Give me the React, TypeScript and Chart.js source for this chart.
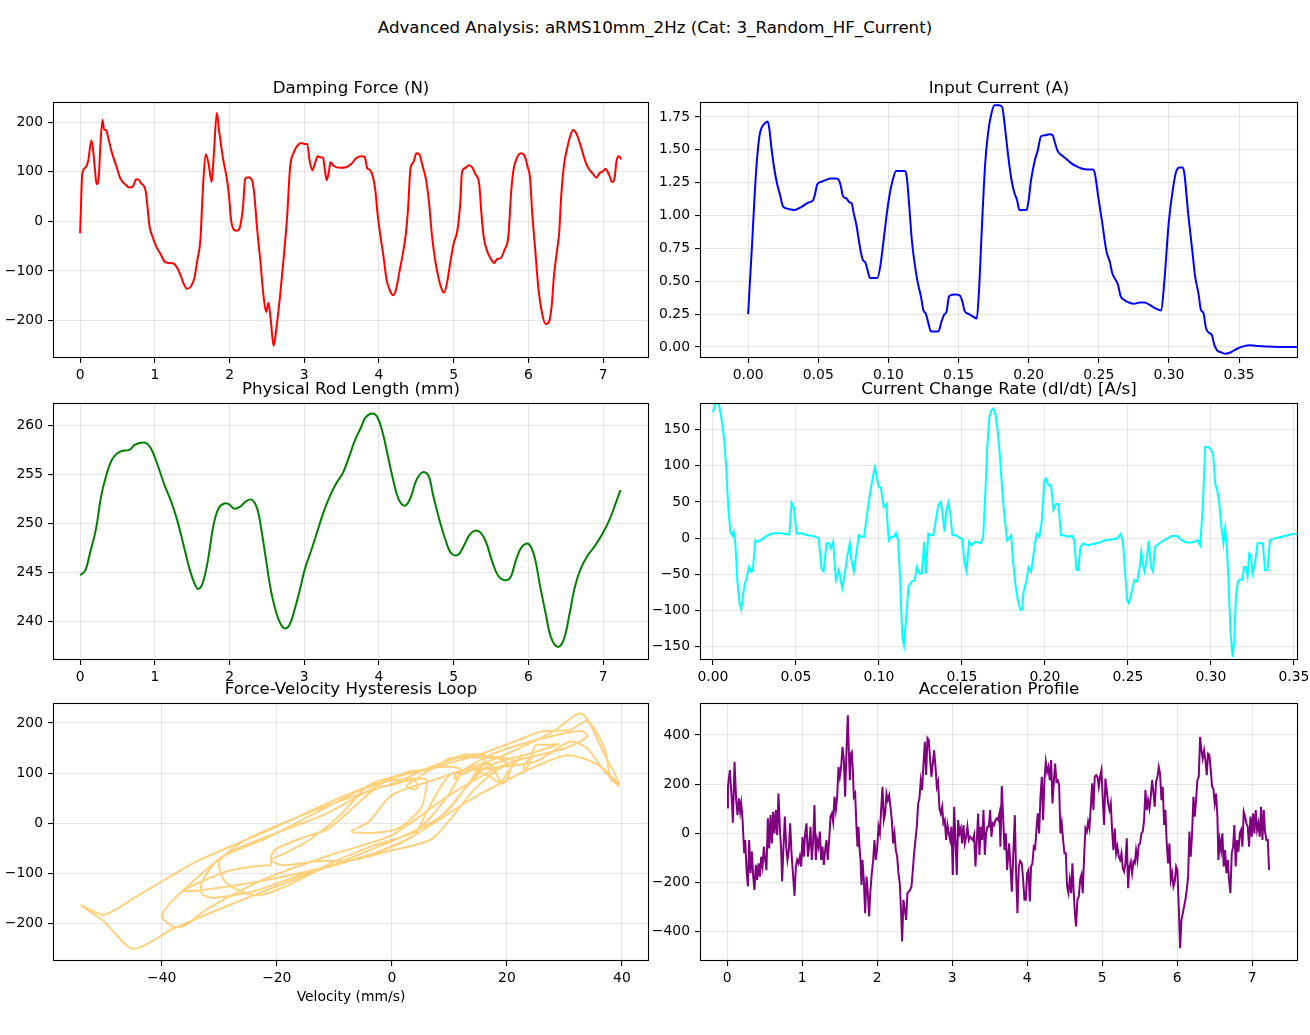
import React, { useEffect, useRef } from "react";
import Chart from "chart.js/auto";

Chart.defaults.font.family = "'DejaVu Sans', sans-serif";
Chart.defaults.font.size = 13.9;
Chart.defaults.color = "#000";

const suptitle = "Advanced Analysis: aRMS10mm_2Hz (Cat: 3_Random_HF_Current)";

// damping force (N) over time (s)
const forceTime = [
  0, 0.03, 0.07, 0.11, 0.15, 0.17, 0.2, 0.22, 0.25, 0.27,
  0.3, 0.32, 0.35, 0.38, 0.43, 0.49, 0.54, 0.6, 0.66, 0.71,
  0.75, 0.79, 0.82, 0.85, 0.88, 0.93, 0.96, 1.02, 1.08, 1.13,
  1.19, 1.25, 1.3, 1.35, 1.39, 1.43, 1.48, 1.53, 1.57, 1.61,
  1.64, 1.68, 1.72, 1.76, 1.79, 1.83, 1.86, 1.91, 1.96, 1.99,
  2.02, 2.06, 2.1, 2.14, 2.18, 2.21, 2.25, 2.3, 2.33, 2.37,
  2.41, 2.45, 2.49, 2.52, 2.55, 2.59, 2.63, 2.68, 2.73, 2.77,
  2.81, 2.86, 2.91, 2.96, 3.0, 3.04, 3.07, 3.11, 3.14, 3.18,
  3.22, 3.25, 3.28, 3.3, 3.33, 3.35, 3.4, 3.48, 3.56, 3.63,
  3.7, 3.77, 3.81, 3.84, 3.88, 3.92, 3.95, 3.98, 4.02, 4.06,
  4.1, 4.15, 4.19, 4.23, 4.27, 4.32, 4.36, 4.39, 4.42, 4.46,
  4.5, 4.54, 4.58, 4.63, 4.67, 4.71, 4.75, 4.8, 4.84, 4.87,
  4.91, 4.96, 5.0, 5.05, 5.09, 5.11, 5.16, 5.2, 5.25, 5.29,
  5.34, 5.37, 5.4, 5.44, 5.49, 5.54, 5.58, 5.63, 5.68, 5.73,
  5.77, 5.8, 5.84, 5.9, 5.95, 5.99, 6.02, 6.05, 6.09, 6.13,
  6.18, 6.23, 6.27, 6.31, 6.34, 6.38, 6.41, 6.44, 6.48, 6.52,
  6.56, 6.6, 6.64, 6.69, 6.73, 6.77, 6.82, 6.86, 6.91, 6.95,
  7.0, 7.03, 7.08, 7.12, 7.15, 7.18, 7.21, 7.24,
];
const forceValues = [
  -24, 96, 108, 123, 163, 149, 103, 75, 89, 149,
  204, 186, 183, 166, 136, 109, 86, 75, 68, 71,
  85, 83, 76, 72, 59, -11, -27, -51, -67, -81,
  -84, -85, -94, -111, -127, -136, -132, -114, -77, -37,
  56, 135, 116, 79, 136, 219, 183, 129, 89, 56,
  3, -17, -19, -11, 29, 86, 89, 83, 56, -17,
  -77, -144, -183, -164, -197, -251, -211, -144, -64, 9,
  109, 139, 153, 158, 156, 156, 123, 103, 116, 131,
  129, 128, 99, 83, 101, 119, 111, 108, 109, 116,
  128, 131, 129, 108, 103, 89, 63, 16, -31, -71,
  -117, -141, -149, -136, -104, -64, -24, 29, 106, 119,
  137, 135, 113, 83, 36, -31, -77, -117, -137, -144,
  -124, -77, -44, -17, 43, 99, 108, 113, 108, 95,
  76, 16, -31, -57, -74, -84, -76, -74, -57, -31,
  63, 104, 126, 137, 131, 109, 89, 16, -57, -131,
  -184, -207, -204, -171, -111, -61, -24, 56, 119, 149,
  173, 184, 177, 156, 136, 117, 103, 96, 88, 97,
  101, 106, 93, 79, 86, 123, 131, 125,
];
// velocity (mm/s) at the same instants, for the hysteresis loop
const loopVelocity = [
  4, 10, 16, 25, 31, 34, 37, 39.5, 38, 37,
  34, 31, 26, 22, 15, 7, 4, 2.5, 3.5, 4.5,
  4, 2, 0, -2, -4, -11, -15, -20, -21, -21,
  -21, -23, -28, -32, -35, -36, -32, -22, -8, 2,
  15, 30, 36, 39.5, 37, 33, 28, 18, 8, 0,
  -4, -7, -3, 1, 5, 6, 4, -1, -8, -22,
  -34, -44, -50, -54, -50, -45, -38, -24, -6, 8,
  16, 24, 28, 29, 27, 25, 24, 23, 23, 24,
  23, 22, 20, 19, 18, 17, 15, 14, 18, 20,
  19, 15, 10, 7, 3, 0, -6, -14, -22, -30,
  -33, -33, -31, -24, -16, -4, 4, 10, 15, 16,
  16, 13, 7, 1, -11, -25, -30, -29, -26, -23,
  -18, -10, -3, 4, 9, 12, 12, 10, 6, 1,
  -4, -9, -14, -18, -21, -19, -13, -7, -1, 7,
  14, 18, 21, 13, 11, 6, 0, -12, -28, -36,
  -40, -38, -36, -32, -22, -10, 0, 10, 20, 30,
  34, 33, 29, 22, 17, 14, 12, 11, 11, 12,
  13, 14, 17, 19, 20, 21, 21, 21,
];

// input current (A)
const currentTime = [
  0, 0.0027, 0.0056, 0.008, 0.0097, 0.0118, 0.0139, 0.015, 0.0168, 0.0186,
  0.0207, 0.0227, 0.0248, 0.0272, 0.0301, 0.0331, 0.036, 0.039, 0.0428, 0.0464,
  0.0478, 0.0493, 0.0523, 0.0552, 0.0588, 0.0626, 0.0647, 0.0662, 0.0676, 0.07,
  0.0724, 0.0738, 0.0753, 0.0774, 0.0789, 0.0803, 0.0818, 0.0836, 0.0854, 0.0868,
  0.0892, 0.0921, 0.0942, 0.0966, 0.0989, 0.101, 0.1031, 0.1054, 0.1084, 0.1119,
  0.1131, 0.1149, 0.1167, 0.1187, 0.1208, 0.1232, 0.125, 0.1267, 0.1285, 0.1303,
  0.1326, 0.1356, 0.1379, 0.1397, 0.1415, 0.1432, 0.1453, 0.1483, 0.1512, 0.1527,
  0.1545, 0.1571, 0.1601, 0.163, 0.1645, 0.1669, 0.169, 0.171, 0.1734, 0.1757,
  0.1787, 0.1811, 0.1828, 0.1852, 0.1876, 0.1896, 0.1917, 0.1934, 0.1955, 0.1985,
  0.2, 0.2017, 0.2044, 0.2065, 0.2088, 0.2118, 0.2147, 0.2171, 0.2186, 0.2206,
  0.2236, 0.2265, 0.23, 0.2339, 0.2378, 0.2419, 0.2457, 0.2472, 0.2496, 0.2525,
  0.2555, 0.2578, 0.2596, 0.262, 0.2637, 0.2655, 0.2679, 0.2714, 0.2753, 0.2791,
  0.2827, 0.2862, 0.29, 0.2945, 0.2968, 0.2998, 0.3027, 0.3051, 0.3075, 0.3098,
  0.311, 0.3137, 0.3166, 0.3187, 0.321, 0.3228, 0.3246, 0.3264, 0.3287, 0.3305,
  0.3323, 0.3343, 0.3373, 0.3402, 0.3441, 0.3482, 0.353, 0.358, 0.3639, 0.3742,
  0.392,
];
const currentValues = [
  0.25, 0.76, 1.32, 1.6, 1.67, 1.7, 1.715, 1.67, 1.5, 1.36,
  1.24, 1.16, 1.07, 1.055, 1.047, 1.042, 1.055, 1.072, 1.098, 1.118,
  1.168, 1.239, 1.257, 1.27, 1.282, 1.282, 1.27, 1.219, 1.148, 1.131,
  1.1, 1.093, 1.017, 0.916, 0.814, 0.726, 0.663, 0.642, 0.574, 0.526,
  0.526, 0.526, 0.612, 0.814, 1.017, 1.168, 1.27, 1.34, 1.34, 1.34,
  1.295, 1.067, 0.814, 0.637, 0.498, 0.384, 0.278, 0.253, 0.182, 0.119,
  0.119, 0.119, 0.195, 0.245, 0.271, 0.384, 0.397, 0.4, 0.389, 0.346,
  0.271, 0.253, 0.233, 0.217, 0.41, 0.966, 1.396, 1.624, 1.775, 1.839,
  1.839, 1.826, 1.7, 1.472, 1.282, 1.181, 1.118, 1.042, 1.042, 1.042,
  1.118, 1.27, 1.421, 1.497, 1.603, 1.611, 1.619, 1.611, 1.56, 1.492,
  1.459, 1.434, 1.401, 1.376, 1.358, 1.35, 1.35, 1.32, 1.143, 0.941,
  0.726, 0.65, 0.561, 0.511, 0.473, 0.389, 0.359, 0.339, 0.329, 0.339,
  0.339, 0.321, 0.296, 0.278, 0.511, 0.941, 1.194, 1.333, 1.366, 1.366,
  1.32, 1.017, 0.738, 0.536, 0.41, 0.283, 0.258, 0.144, 0.106, 0.094,
  0.018, -0.025, -0.04, -0.051, -0.04, -0.015, 0.005, 0.013, 0.008, 0.003,
  0.0,
];

// physical rod length (mm)
const rodTime = [
  0, 0.07, 0.13, 0.21, 0.28, 0.35, 0.42, 0.49, 0.57, 0.66,
  0.73, 0.8, 0.88, 0.95, 1.03, 1.13, 1.22, 1.3, 1.39, 1.47,
  1.54, 1.58, 1.64, 1.71, 1.78, 1.85, 1.92, 1.99, 2.06, 2.14,
  2.23, 2.3, 2.37, 2.42, 2.49, 2.56, 2.65, 2.73, 2.8, 2.87,
  2.94, 3.01, 3.1, 3.18, 3.26, 3.35, 3.43, 3.52, 3.6, 3.68,
  3.76, 3.82, 3.91, 3.98, 4.05, 4.12, 4.19, 4.26, 4.34, 4.41,
  4.5, 4.58, 4.66, 4.72, 4.81, 4.89, 4.97, 5.06, 5.14, 5.23,
  5.33, 5.42, 5.51, 5.59, 5.68, 5.76, 5.83, 5.91, 6.0, 6.08,
  6.15, 6.23, 6.3, 6.39, 6.47, 6.55, 6.62, 6.7, 6.79, 6.88,
  6.98, 7.08, 7.16, 7.23,
];
const rodValues = [
  244.7, 245.2, 246.9, 249.3, 252.7, 254.9, 256.4, 257.1, 257.4, 257.5,
  258.0, 258.2, 258.2, 257.6, 256.1, 253.9, 252.2, 250.3, 247.6, 245.2,
  243.7, 243.3, 243.9, 246.2, 249.6, 251.5, 252.0, 251.95, 251.5, 251.7,
  252.3, 252.4, 251.5, 249.6, 246.2, 242.9, 240.3, 239.3, 239.6, 241.2,
  243.2, 245.4, 247.4, 249.3, 251.2, 252.9, 254.1, 255.2, 256.8, 258.5,
  259.8, 260.8, 261.2, 260.8, 259.2, 256.8, 254.4, 252.5, 251.8, 252.4,
  254.4, 255.2, 254.9, 253.0, 250.3, 248.3, 246.9, 246.8, 247.8, 249.0,
  249.2, 248.3, 246.2, 244.7, 244.2, 244.5, 246.2, 247.6, 247.9, 246.6,
  243.8, 240.8, 238.4, 237.4, 238.1, 240.8, 243.5, 245.4, 246.7, 247.6,
  248.8, 250.3, 251.9, 253.4,
];

// current change rate dI/dt (A/s)
const rateTime = [
  0, 0.0017, 0.0035, 0.005, 0.0067, 0.008, 0.0092, 0.0105, 0.0117, 0.0125,
  0.0135, 0.0147, 0.016, 0.017, 0.018, 0.0192, 0.0205, 0.0217, 0.023, 0.024,
  0.0255, 0.027, 0.0292, 0.0317, 0.035, 0.0392, 0.043, 0.046, 0.0474, 0.0487,
  0.0504, 0.053, 0.0567, 0.0604, 0.0637, 0.0654, 0.0667, 0.0684, 0.07, 0.071,
  0.0724, 0.0741, 0.0759, 0.0779, 0.0794, 0.0809, 0.0824, 0.0834, 0.0849, 0.0864,
  0.0879, 0.0891, 0.0911, 0.0929, 0.0949, 0.0966, 0.0976, 0.0986, 0.0999, 0.1011,
  0.1029, 0.1044, 0.1059, 0.1074, 0.1091, 0.1103, 0.1116, 0.1128, 0.1141, 0.1151,
  0.1163, 0.1178, 0.1198, 0.1216, 0.1228, 0.1246, 0.1258, 0.1273, 0.1283, 0.1298,
  0.1313, 0.1328, 0.1343, 0.1358, 0.1373, 0.1383, 0.1396, 0.1405, 0.1418, 0.143,
  0.1443, 0.1463, 0.1483, 0.1503, 0.1515, 0.1528, 0.1543, 0.1558, 0.1578, 0.1598,
  0.1615, 0.1628, 0.164, 0.1653, 0.1665, 0.1678, 0.169, 0.1703, 0.1715, 0.1728,
  0.1743, 0.1757, 0.1772, 0.1782, 0.1797, 0.1807, 0.1822, 0.1837, 0.1852, 0.1862,
  0.1872, 0.1887, 0.1902, 0.1917, 0.1927, 0.194, 0.1952, 0.1967, 0.1982, 0.1997,
  0.2007, 0.2022, 0.2037, 0.2052, 0.2067, 0.2082, 0.2097, 0.2115, 0.2139, 0.2164,
  0.2177, 0.219, 0.2202, 0.2214, 0.2232, 0.2257, 0.2289, 0.2327, 0.2364, 0.2402,
  0.2439, 0.2457, 0.2471, 0.2481, 0.2496, 0.2506, 0.2521, 0.2539, 0.2556, 0.2571,
  0.2581, 0.2591, 0.2601, 0.2613, 0.2626, 0.2639, 0.2651, 0.2664, 0.2689, 0.2726,
  0.2764, 0.2796, 0.2826, 0.2851, 0.2888, 0.2921, 0.2936, 0.2951, 0.2966, 0.2981,
  0.2996, 0.3013, 0.3026, 0.3038, 0.3051, 0.3063, 0.3076, 0.3086, 0.3096, 0.3106,
  0.3118, 0.3131, 0.3141, 0.3151, 0.3163, 0.3176, 0.3188, 0.3201, 0.3211, 0.3221,
  0.3231, 0.3241, 0.3251, 0.3266, 0.3281, 0.3296, 0.3313, 0.3326, 0.3341, 0.3356,
  0.3388, 0.3425, 0.3463, 0.35, 0.3525,
];
const rateValues = [
  174, 187, 186, 167, 138, 98, 43, 9, 4, 9,
  -7, -58, -90, -98, -81, -63, -53, -40, -46, -46,
  -3, -5, -2, 2, 6, 7, 6, 5, 49, 43,
  6, 7, 4, 3, 0, -42, -46, -7, -7, -14,
  -5, -58, -44, -69, -49, -26, -7, -30, -46, -21,
  4, 2, 2, 34, 66, 87, 98, 85, 71, 70,
  43, 47, -3, 2, 2, 7, -3, -58, -136, -148,
  -113, -67, -60, -58, -40, -49, -49, -5, -49, 6,
  4, 4, 25, 46, 50, 34, 9, 36, 49, 34,
  4, 4, 1, -2, -33, -46, -5, -10, -5, -6,
  -7, 2, 57, 126, 167, 177, 179, 170, 149, 117,
  66, 29, -3, 0, 4, -30, -63, -86, -99, -99,
  -74, -60, -40, -46, -30, -7, 6, 2, 25, 80,
  82, 73, 73, 39, 47, 47, 4, 4, 2, 3,
  -3, -44, -44, -12, -7, -10, -8, -6, -3, -2,
  0, 6, -7, -40, -86, -90, -76, -58, -60, -40,
  -19, -37, -46, -30, -3, -40, -46, -12, -7, -2,
  3, 3, -3, -6, -6, -3, -10, 43, 126, 126,
  124, 117, 75, 66, 48, 16, -7, 13, -12, -58,
  -127, -164, -141, -81, -60, -57, -58, -40, -40, -53,
  -21, -23, -49, -35, -7, -7, -7, -44, -44, -3,
  0, 2, 4, 6, 6,
];

// acceleration profile
const accelTime = [
  0, 0.01, 0.036, 0.062, 0.076, 0.098, 0.12, 0.138, 0.156, 0.173,
  0.187, 0.204, 0.227, 0.24, 0.258, 0.276, 0.293, 0.311, 0.329, 0.347,
  0.364, 0.382, 0.4, 0.418, 0.436, 0.453, 0.471, 0.489, 0.507, 0.524,
  0.542, 0.56, 0.578, 0.596, 0.613, 0.631, 0.649, 0.667, 0.684, 0.702,
  0.72, 0.733, 0.751, 0.769, 0.787, 0.804, 0.822, 0.84, 0.858, 0.88,
  0.898, 0.916, 0.933, 0.951, 0.969, 0.987, 1.004, 1.022, 1.04, 1.058,
  1.076, 1.093, 1.111, 1.129, 1.147, 1.164, 1.182, 1.2, 1.218, 1.236,
  1.253, 1.271, 1.289, 1.307, 1.324, 1.342, 1.36, 1.378, 1.396, 1.413,
  1.431, 1.449, 1.467, 1.484, 1.502, 1.52, 1.538, 1.556, 1.573, 1.591,
  1.609, 1.622, 1.636, 1.649, 1.662, 1.676, 1.689, 1.707, 1.724, 1.738,
  1.751, 1.764, 1.778, 1.791, 1.804, 1.822, 1.84, 1.858, 1.876, 1.893,
  1.911, 1.929, 1.947, 1.964, 1.982, 2.0, 2.018, 2.036, 2.053, 2.071,
  2.089, 2.107, 2.124, 2.142, 2.16, 2.178, 2.196, 2.213, 2.231, 2.249,
  2.267, 2.284, 2.302, 2.32, 2.333, 2.351, 2.369, 2.387, 2.404, 2.422,
  2.44, 2.458, 2.476, 2.493, 2.511, 2.529, 2.547, 2.564, 2.582, 2.6,
  2.618, 2.636, 2.653, 2.671, 2.689, 2.707, 2.724, 2.742, 2.76, 2.778,
  2.796, 2.813, 2.831, 2.849, 2.867, 2.884, 2.902, 2.92, 2.938, 2.956,
  2.973, 2.991, 3.009, 3.027, 3.044, 3.062, 3.08, 3.098, 3.116, 3.133,
  3.151, 3.169, 3.187, 3.204, 3.222, 3.24, 3.258, 3.276, 3.293, 3.311,
  3.329, 3.347, 3.364, 3.382, 3.4, 3.418, 3.436, 3.453, 3.471, 3.489,
  3.507, 3.524, 3.542, 3.56, 3.578, 3.596, 3.613, 3.631, 3.644, 3.662,
  3.68, 3.698, 3.716, 3.733, 3.76, 3.778, 3.796, 3.813, 3.836, 3.853,
  3.871, 3.889, 3.907, 3.929, 3.947, 3.964, 3.982, 4.0, 4.018, 4.036,
  4.053, 4.071, 4.089, 4.107, 4.124, 4.142, 4.16, 4.178, 4.196, 4.213,
  4.231, 4.249, 4.267, 4.284, 4.302, 4.32, 4.338, 4.356, 4.373, 4.391,
  4.409, 4.427, 4.444, 4.462, 4.48, 4.498, 4.516, 4.533, 4.551, 4.569,
  4.587, 4.604, 4.622, 4.64, 4.653, 4.671, 4.689, 4.707, 4.724, 4.742,
  4.76, 4.778, 4.796, 4.813, 4.831, 4.849, 4.867, 4.884, 4.902, 4.92,
  4.938, 4.956, 4.973, 4.991, 5.009, 5.027, 5.044, 5.062, 5.08, 5.098,
  5.116, 5.133, 5.151, 5.169, 5.187, 5.204, 5.222, 5.24, 5.258, 5.276,
  5.293, 5.311, 5.329, 5.347, 5.364, 5.382, 5.4, 5.418, 5.436, 5.453,
  5.471, 5.489, 5.507, 5.524, 5.542, 5.56, 5.578, 5.596, 5.613, 5.631,
  5.649, 5.667, 5.684, 5.702, 5.72, 5.738, 5.756, 5.773, 5.791, 5.809,
  5.827, 5.844, 5.862, 5.88, 5.898, 5.916, 5.933, 5.951, 5.969, 5.987,
  6.004, 6.022, 6.04, 6.058, 6.076, 6.093, 6.111, 6.129, 6.147, 6.164,
  6.182, 6.2, 6.218, 6.236, 6.253, 6.271, 6.289, 6.307, 6.324, 6.342,
  6.36, 6.378, 6.396, 6.413, 6.431, 6.449, 6.467, 6.484, 6.502, 6.52,
  6.538, 6.551, 6.569, 6.587, 6.604, 6.622, 6.64, 6.658, 6.676, 6.693,
  6.711, 6.729, 6.747, 6.764, 6.782, 6.8, 6.818, 6.836, 6.853, 6.871,
  6.889, 6.907, 6.924, 6.942, 6.96, 6.978, 6.996, 7.013, 7.031, 7.049,
  7.067, 7.084, 7.102, 7.12, 7.138, 7.156, 7.173, 7.191, 7.209, 7.227,
];
const accelValues = [
  105, 189, 257, 135, 43, 291, 135, 74, 142, 88,
  122, 61, -81, -27, -149, -216, -27, -162, -74, -176,
  -230, -128, -189, -122, -176, -95, -135, -54, -108, -149,
  61, -61, 74, -41, 88, 0, 95, -7, 162, 27,
  -68, -196, -54, 68, -54, -108, -68, 41, -81, -176,
  -254, -135, -108, -122, -95, -135, -14, -95, 0, 41,
  -95, -54, 27, -108, -27, 115, -108, -27, -54, 7,
  -108, -54, -128, -68, -27, -108, -27, 68, 81, 47,
  149, 95, 149, 270, 230, 270, 352, 298, 149, 338,
  480, 338, 216, 324, 331, 257, 149, 162, 27, -54,
  27, -54, -108, -210, -108, -189, -325, -176, -243, -338,
  -230, -162, -108, -27, -108, -61, 27, 0, 95, 189,
  54, 81, 162, 135, 155, 108, 54, -41, 0, -68,
  -95, -162, -203, -325, -440, -270, -311, -352, -243, -237,
  -230, -216, -149, -81, -27, 27, 122, 142, 216, 176,
  284, 372, 237, 387, 379, 298, 230, 284, 338, 270,
  189, 210, 101, 81, 108, 41, 54, -27, 34, 0,
  -27, 27, -169, 108, -27, -169, 54, 0, 20, -41,
  34, -41, -14, 27, -27, -14, -20, -27, -7, -135,
  -27, 81, -88, 27, -27, 95, -88, 0, 27, 27,
  95, -14, 41, 34, 54, 61, 54, 81, -54, 192,
  68, -68, 0, -149, -41, -135, -237, -108, 74, -162,
  -325, -135, -112, -122, -189, -270, -270, -162, -149, -277,
  -135, -122, -54, -61, 14, 81, 0, 149, 230, 54,
  216, 291, 250, 270, 216, 298, 122, 210, 284, 210,
  216, 196, 0, 41, -27, -81, -81, -216, -243, -189,
  -243, -122, -243, -338, -379, -270, -257, -189, -169, -243,
  -95, 20, 7, 47, 20, 108, 203, 95, 230, 237,
  230, 189, 230, 257, 135, 34, 223, 176, 122, 95,
  122, 14, -68, 20, -81, -54, -95, -108, -81, -142,
  -155, -122, -20, -223, -135, -115, -162, -115, -122, -68,
  -108, -47, -41, 0, 7, 54, 176, 95, 135, 101,
  149, 216, 169, 108, 210, 230, 270, 243, 135, 189,
  34, 95, -41, -122, -41, -189, -162, -216, -196, -135,
  -149, -298, -467, -352, -325, -298, -270, -230, -176, 7,
  -95, 0, 149, 68, 135, 216, 230, 392, 338, 304,
  338, 298, 237, 324, 318, 257, 189, 182, 122, 162,
  68, -108, -27, -68, 0, -135, -68, -162, -108, -189,
  -243, -81, -54, 34, -135, -27, -74, 0, 14, -54,
  88, 68, 41, 27, -54, 68, -14, 81, 0, 95,
  14, 41, -14, 108, -27, 95, 7, -27, -27, -149,
];

// tick values
const timeTicks = [0, 1, 2, 3, 4, 5, 6, 7];
const forceTicks = [-200, -100, 0, 100, 200];
const currentXTicks = [0, 0.05, 0.1, 0.15, 0.2, 0.25, 0.3, 0.35];
const currentYTicks = [0, 0.25, 0.5, 0.75, 1.0, 1.25, 1.5, 1.75];
const rodTicks = [240, 245, 250, 255, 260];
const rateTicks = [-150, -100, -50, 0, 50, 100, 150];
const velocityTicks = [-40, -20, 0, 20, 40];
const accelTicks = [-400, -200, 0, 200, 400];

const fmt = (v: number, digits: number) => {
  const s = Math.abs(v).toFixed(digits);
  return v < 0 ? "\u2212" + s : s;
};

// matplotlib-like box around the plot area
const framePlugin = {
  id: "frame",
  afterDatasetsDraw(chart: any) {
    const { ctx, chartArea } = chart;
    const l = Math.round(chartArea.left) + 0.5;
    const t = Math.round(chartArea.top) + 0.5;
    const r = Math.round(chartArea.right) - 0.5;
    const b = Math.round(chartArea.bottom) - 0.5;
    ctx.save();
    ctx.strokeStyle = "#000";
    ctx.lineWidth = 1.1;
    ctx.strokeRect(l, t, r - l, b - t);
    ctx.restore();
  },
};

type PanelProps = {
  left: number;
  top: number;
  right: number;
  bottom: number;
  title: string;
  kind: "line" | "scatter";
  xs: number[];
  ys: number[];
  color: string;
  smooth?: boolean;
  tension?: number;
  xRange: [number, number];
  yRange: [number, number];
  xTicks: number[];
  yTicks: number[];
  xDigits: number;
  yDigits: number;
  xLabel?: string;
};

const Y_AXIS_W = 50;
const X_AXIS_H = 45;
const TITLE_H = 25;
const PAD_RIGHT = 20;

const Panel: React.FC<PanelProps> = (p) => {
  const canvasRef = useRef<HTMLCanvasElement>(null);

  useEffect(() => {
    if (!canvasRef.current) return;

    const axis = (range: [number, number], ticks: number[], digits: number) => ({
      type: "linear" as const,
      min: range[0],
      max: range[1],
      bounds: "data" as const,
      afterBuildTicks: (scale: any) => {
        scale.ticks = ticks.map((value) => ({ value }));
      },
      grid: {
        color: "rgba(176,176,176,0.3)",
        lineWidth: 1.1,
        tickColor: "#000",
        tickLength: 5,
        tickWidth: 1.1,
      },
      border: { display: false },
      ticks: {
        autoSkip: false,
        maxRotation: 0,
        color: "#000",
        callback: (v: any) => fmt(Number(v), digits),
      },
    });

    const xAxis: any = axis(p.xRange, p.xTicks, p.xDigits);
    xAxis.ticks.padding = 4;
    xAxis.afterFit = (s: any) => {
      s.height = X_AXIS_H;
    };
    if (p.xLabel) {
      xAxis.title = {
        display: true,
        text: p.xLabel,
        color: "#000",
        font: { size: 13.9 },
        padding: 0,
      };
    }
    const yAxis: any = axis(p.yRange, p.yTicks, p.yDigits);
    yAxis.ticks.padding = 5;
    yAxis.afterFit = (s: any) => {
      s.width = Y_AXIS_W;
    };

    const chart = new Chart(canvasRef.current, {
      type: p.kind,
      data: {
        datasets: [
          {
            data: p.xs.map((x, i) => ({ x, y: p.ys[i] })),
            borderColor: p.color,
            backgroundColor: p.color,
            borderWidth: 2,
            pointRadius: 0,
            fill: false,
            showLine: true,
            tension: p.tension ?? 0,
            cubicInterpolationMode: p.smooth ? "monotone" : "default",
          },
        ],
      },
      options: {
        animation: false,
        responsive: true,
        maintainAspectRatio: false,
        events: [],
        layout: { padding: { left: 0, top: 0, right: PAD_RIGHT, bottom: 0 } },
        plugins: {
          legend: { display: false },
          tooltip: { enabled: false },
          title: {
            display: true,
            text: p.title,
            fullSize: false,
            color: "#000",
            font: { size: 16.67, weight: "normal" },
            padding: { top: 2, bottom: 3 },
          },
        },
        scales: { x: xAxis, y: yAxis },
      },
      plugins: [framePlugin],
    } as any);

    return () => chart.destroy();
  }, []);

  return (
    <div
      style={{
        position: "absolute",
        left: p.left - Y_AXIS_W,
        top: p.top - TITLE_H,
        width: p.right - p.left + Y_AXIS_W + PAD_RIGHT,
        height: p.bottom - p.top + TITLE_H + X_AXIS_H,
      }}
    >
      <canvas ref={canvasRef} />
    </div>
  );
};

const App: React.FC = () => {
  return (
    <div
      style={{
        position: "absolute",
        left: 0,
        top: 0,
        width: 1310,
        height: 1035,
        overflow: "hidden",
        background: "white",
      }}
    >
      <div
        style={{
          position: "absolute",
          left: 0,
          top: 18,
          width: 1310,
          textAlign: "center",
          fontFamily: "'DejaVu Sans', sans-serif",
          fontSize: 16.67,
          lineHeight: "20px",
          color: "#000",
        }}
      >
        {suptitle}
      </div>

      <Panel
        left={53} top={102} right={649} bottom={358}
        title="Damping Force (N)" kind="line"
        xs={forceTime} ys={forceValues} color="red" smooth
        xRange={[-0.3625, 7.6125]} yRange={[-275.5, 240.5]}
        xTicks={timeTicks} yTicks={forceTicks} xDigits={0} yDigits={0}
      />
      <Panel
        left={700} top={102} right={1298} bottom={358}
        title="Input Current (A)" kind="line"
        xs={currentTime} ys={currentValues} color="blue" smooth
        xRange={[-0.0343, 0.392]} yRange={[-0.0835, 1.864]}
        xTicks={currentXTicks} yTicks={currentYTicks} xDigits={2} yDigits={2}
      />
      <Panel
        left={53} top={403} right={649} bottom={660}
        title="Physical Rod Length (mm)" kind="line"
        xs={rodTime} ys={rodValues} color="green" tension={0.4}
        xRange={[-0.3625, 7.6125]} yRange={[236.06, 262.27]}
        xTicks={timeTicks} yTicks={rodTicks} xDigits={0} yDigits={0}
      />
      <Panel
        left={700} top={403} right={1298} bottom={660}
        title="Current Change Rate (dI/dt) [A/s]" kind="line"
        xs={rateTime} ys={rateValues} color="cyan"
        xRange={[-0.0078, 0.3525]} yRange={[-168.4, 186.7]}
        xTicks={currentXTicks} yTicks={rateTicks} xDigits={2} yDigits={0}
      />
      <Panel
        left={53} top={703} right={649} bottom={961}
        title="Force-Velocity Hysteresis Loop" kind="scatter"
        xs={loopVelocity} ys={forceValues} color="rgba(255,165,0,0.5)" tension={0.25}
        xRange={[-58.9, 44.7]} yRange={[-275.4, 240]}
        xTicks={velocityTicks} yTicks={forceTicks} xDigits={0} yDigits={0}
        xLabel="Velocity (mm/s)"
      />
      <Panel
        left={700} top={703} right={1298} bottom={961}
        title="Acceleration Profile" kind="line"
        xs={accelTime} ys={accelValues} color="purple"
        xRange={[-0.3625, 7.6125]} yRange={[-519, 530]}
        xTicks={timeTicks} yTicks={accelTicks} xDigits={0} yDigits={0}
      />
    </div>
  );
};

export default App;
